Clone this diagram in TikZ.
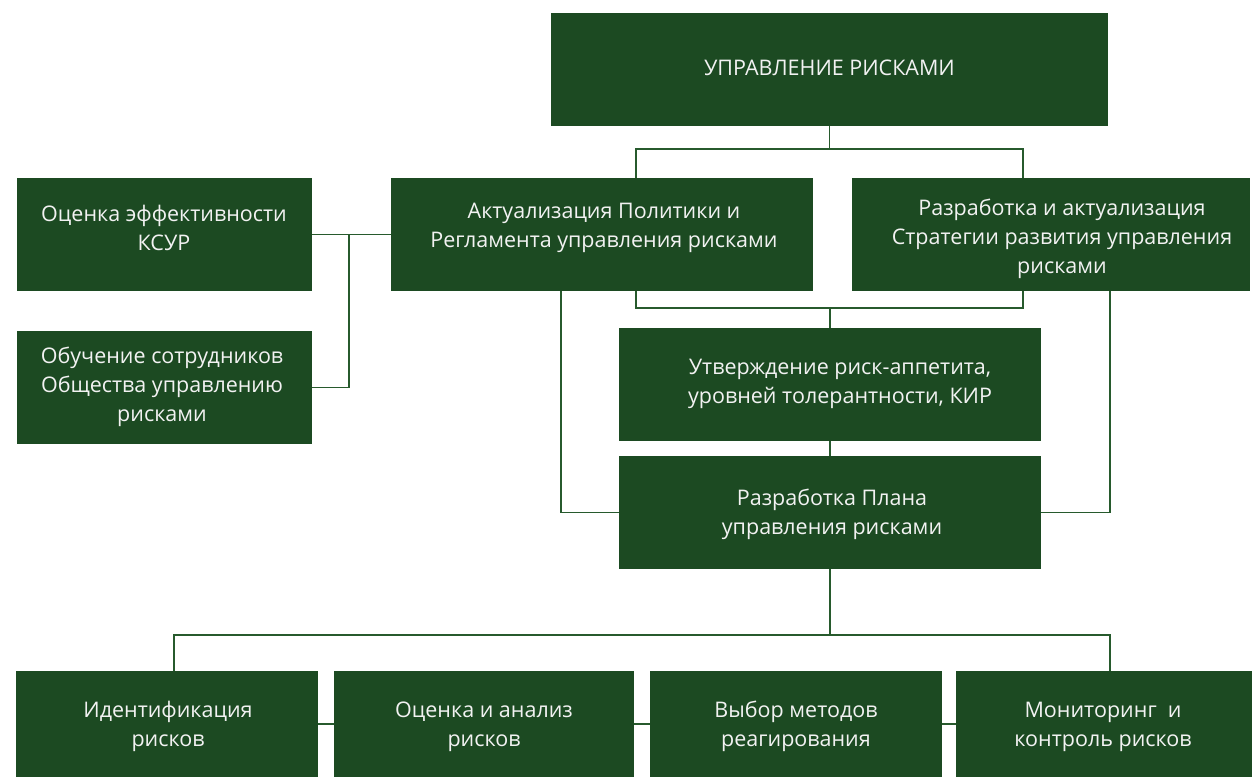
\documentclass[tikz,border=0pt]{standalone}
\usepackage{fontspec}
\setmainfont{Open Sans}
\definecolor{boxgreen}{HTML}{1C4A22}
\definecolor{linegreen}{HTML}{275A2D}
\definecolor{txt}{HTML}{F2F2F2}
\begin{document}
\begin{tikzpicture}[x=1pt,y=-1pt,
  box/.style={fill=boxgreen, draw=none, inner sep=0pt},
  lbl/.style={text=txt, align=center, inner sep=0pt,
    font=\fontsize{21.5}{29}\selectfont},
  conn/.style={draw=linegreen, line width=1.6pt}]
\useasboundingbox (0,0) rectangle (1252,777);
% boxes
\node[box, minimum width=557pt, minimum height=113pt] (top) at (829.5,69.5) {};
\node[box, minimum width=295pt, minimum height=113pt] (left1) at (164.5,234.5) {};
\node[box, minimum width=422pt, minimum height=113pt] (mid1) at (602,234.5) {};
\node[box, minimum width=398pt, minimum height=113pt] (right1) at (1051,234.5) {};
\node[box, minimum width=295pt, minimum height=113pt] (left2) at (164.5,387.5) {};
\node[box, minimum width=422pt, minimum height=113pt] (center) at (830,384.5) {};
\node[box, minimum width=422pt, minimum height=113pt] (center2) at (830,512.5) {};
\node[box, minimum width=302pt, minimum height=106pt] (bot1) at (167,724) {};
\node[box, minimum width=300pt, minimum height=106pt] (bot2) at (484,724) {};
\node[box, minimum width=292pt, minimum height=106pt] (bot3) at (796,724) {};
\node[box, minimum width=296pt, minimum height=106pt] (bot4) at (1104,724) {};
% texts
\node[lbl] (topt) at (829.5,68) {УПРАВЛЕНИЕ РИСКАМИ};
\node[lbl] (left1t) at (164,228) {Оценка эффективности\\КСУР};
\node[lbl] (mid1t) at (604,228) {Актуализация Политики и\\Регламента управления рисками};
\node[lbl] (right1t) at (1062,239) {Разработка и актуализация\\Стратегии развития управления\\рисками};
\node[lbl] (left2t) at (162,387) {Обучение сотрудников\\Общества управлению\\рисками};
\node[lbl] (centert) at (840,383.5) {Утверждение риск-аппетита,\\уровней толерантности, КИР};
\node[lbl] (center2t) at (832,514) {Разработка Плана\\управления рисками};
\node[lbl] (bot1t) at (168,726.5) {Идентификация\\рисков};
\node[lbl] (bot2t) at (484,726.5) {Оценка и анализ\\рисков};
\node[lbl] (bot3t) at (796,726.5) {Выбор методов\\реагирования};
\node[lbl] (bot4t) at (1103,726.5) {Мониторинг\ \ и\\контроль рисков};
% junction coordinates
\coordinate (aL) at (636,149);
\coordinate (aR) at (1023,149);
\coordinate (bL) at (636,308);
\coordinate (bR) at (1023,308);
\coordinate (cL) at (561,508);
\coordinate (cR) at (1110,508);
\coordinate (d) at (349,235);
\coordinate (eL) at (174,635);
\coordinate (eR) at (1110,635);
% connectors
\draw[conn] (top.south) -- (top.south |- aL);
\draw[conn] (mid1.north -| aL) |- (aR) -- (right1.north -| aR);
\draw[conn] (mid1.south -| bL) |- (bR) -- (right1.south -| bR);
\draw[conn] (center.north) -- (center.north |- bL);
\draw[conn] (center.south) -- (center2.north);
\draw[conn] (mid1.south -| cL) |- (center2.west);
\draw[conn] (right1.south -| cR) |- (center2.east);
\draw[conn] (left1.east) -- (mid1.west);
\draw[conn] (left1.east -| d) |- (left2.east);
\draw[conn] (center2.south) -- (center2.south |- eL);
\draw[conn] (bot1.north -| eL) |- (eR) -- (bot4.north -| eR);
\draw[conn] (bot1.east) -- (bot2.west);
\draw[conn] (bot2.east) -- (bot3.west);
\draw[conn] (bot3.east) -- (bot4.west);
\end{tikzpicture}
\end{document}
